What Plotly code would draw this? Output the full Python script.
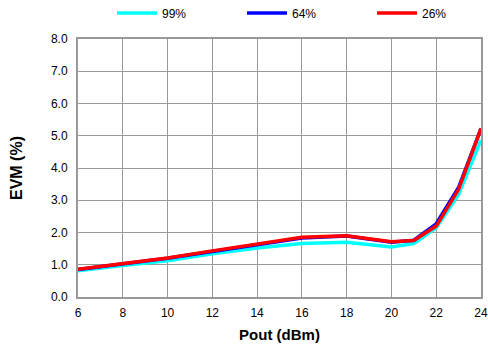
import plotly.graph_objects as go

pout = [6, 8, 10, 12, 14, 16, 18, 20, 21, 22, 23, 24]
evm_99 = [0.81, 0.98, 1.12, 1.34, 1.52, 1.66, 1.70, 1.55, 1.66, 2.15, 3.18, 4.87]
evm_64 = [0.85, 1.03, 1.20, 1.41, 1.61, 1.83, 1.89, 1.70, 1.76, 2.27, 3.40, 5.22]
evm_26 = [0.86, 1.04, 1.21, 1.43, 1.63, 1.85, 1.90, 1.71, 1.75, 2.20, 3.34, 5.23]
series = [("99%", evm_99, "#00ffff"), ("64%", evm_64, "#0000ff"), ("26%", evm_26, "#ff0000")]

y_ticks = [0, 1, 2, 3, 4, 5, 6, 7, 8]
y_labels = ["0.0", "1.0", "2.0", "3.0", "4.0", "5.0", "6.0", "7.0", "8.0"]
x_ticks = [6, 8, 10, 12, 14, 16, 18, 20, 22, 24]

W, H = 488, 352
legend_ids = ["legend", "legend2", "legend3"]
legend_x_px = [112, 242, 372]

fig = go.Figure()
for (name, vals, col), lid in zip(series, legend_ids):
    fig.add_trace(go.Scatter(x=pout, y=vals, mode="lines", name=name, legend=lid,
                             line=dict(color=col, width=3.5)))

legend_common = dict(orientation="h", xanchor="left", yanchor="middle",
                     xref="container", yref="container", y=1 - 13 / H,
                     itemwidth=40, font=dict(size=12), bgcolor="rgba(0,0,0,0)")

fig.update_layout(
    width=W, height=H,
    margin=dict(l=78, r=7, t=39, b=55, autoexpand=False),
    paper_bgcolor="white", plot_bgcolor="white",
    font=dict(family="Liberation Sans, Arial, sans-serif", size=12, color="black"),
    showlegend=True,
    legend=dict(x=legend_x_px[0] / W, **legend_common),
    legend2=dict(x=legend_x_px[1] / W, **legend_common),
    legend3=dict(x=legend_x_px[2] / W, **legend_common),
    xaxis=dict(range=[6, 24], tickvals=x_ticks, showgrid=True, gridcolor="#999999",
               gridwidth=1, linecolor="#999999", linewidth=2, mirror=True,
               ticks="", zeroline=False, automargin=False, ticklabelstandoff=4,
               title=dict(text="<b>Pout (dBm)</b>", font=dict(size=15), standoff=10)),
    yaxis=dict(range=[0, 8], tickvals=y_ticks, ticktext=y_labels, showgrid=True,
               gridcolor="#999999", gridwidth=1, linecolor="#999999", linewidth=2,
               mirror=True, ticks="", zeroline=False, automargin=False,
               ticklabelstandoff=6,
               title=dict(text="<b>EVM (%)</b>", font=dict(size=16), standoff=24)),
)
fig.write_html("out.html", config={"displayModeBar": False},
               post_script="document.body.style.margin='0';")
